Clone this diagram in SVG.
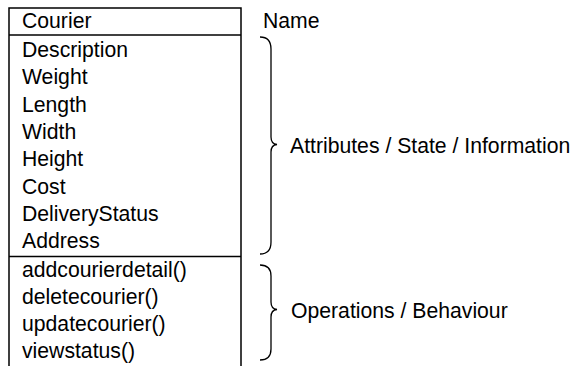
<svg xmlns="http://www.w3.org/2000/svg" width="574" height="368" viewBox="0 0 574 368">
<style>
text{font-family:"Liberation Sans",Arial,sans-serif;font-size:21.2px;fill:#000}
.ln{stroke:#000;stroke-width:1.5;fill:none}
.br{stroke:#000;stroke-width:1.3;fill:none}
</style>
<rect width="574" height="368" fill="#fff"/>
<g id="class-courier">
<path class="ln" d="M9,366 L9,8 L241,8 L241,366"/>
<line class="ln" x1="9" y1="35" x2="241" y2="35"/>
<line class="ln" x1="9" y1="256.5" x2="241" y2="256.5"/>
<text x="22" y="28">Courier</text>
<text x="22" y="57">Description</text>
<text x="22" y="84.3">Weight</text>
<text x="22" y="111.6">Length</text>
<text x="22" y="138.9">Width</text>
<text x="22" y="166.2">Height</text>
<text x="22" y="193.5">Cost</text>
<text x="22" y="220.8">DeliveryStatus</text>
<text x="22" y="248">Address</text>
<text x="22" y="277">addcourierdetail()</text>
<text x="22" y="304">deletecourier()</text>
<text x="22" y="331">updatecourier()</text>
<text x="22" y="358">viewstatus()</text>
</g>
<g id="connectors">
<path class="br" d="M260,37 Q271,37 271,49 L271,137 Q271,144 277,144.5 Q271,145 271,152 L271,242 Q271,254 260,254"/>
<path class="br" d="M260,265 Q271,265 271,276 L271,302 Q271,309 277,309.5 Q271,310 271,317 L271,349 Q271,360 260,360"/>
</g>
<g id="labels">
<text x="263" y="28">Name</text>
<text x="290" y="153">Attributes / State / Information</text>
<text x="291" y="318">Operations / Behaviour</text>
</g>
</svg>
